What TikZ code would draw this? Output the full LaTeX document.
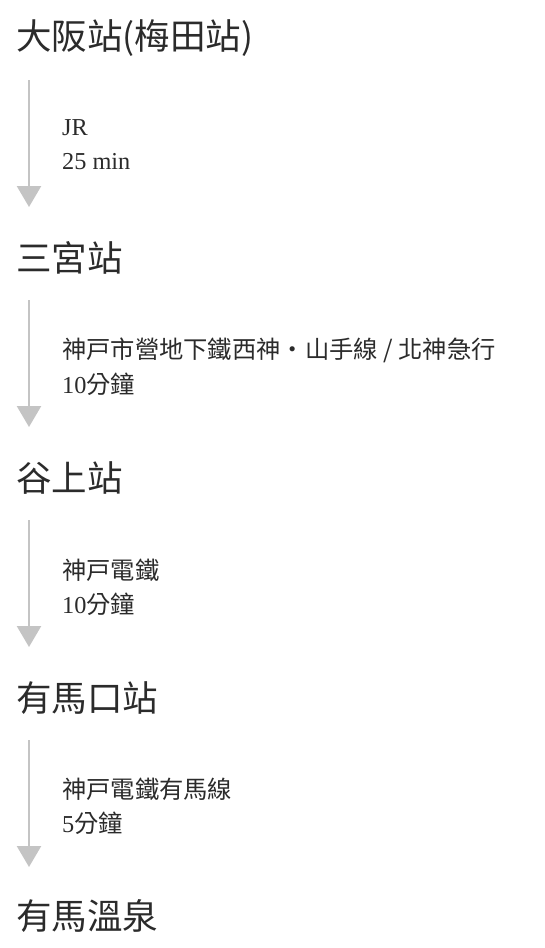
\documentclass[tikz,border=0pt]{standalone}
\usepackage{fontspec}
\setmainfont{Liberation Serif}
\newfontfamily\cjk{Noto Sans CJK TC}
\usetikzlibrary{arrows.meta,positioning}

\definecolor{textgray}{HTML}{2B2B2B}
\definecolor{linegray}{HTML}{C4C4C4}

\newcommand*{\arrx}{29}
\newcommand*{\gap}{220}
\newcommand*{\linegap}{34}

\tikzset{
	station/.style={anchor=west, inner sep=0pt, text=textgray, font=\cjk\fontsize{35.5}{42}\selectfont},
	route/.style={anchor=west, inner sep=0pt, text=textgray, font=\fontsize{24.3}{29}\selectfont},
	flow/.style={draw=linegray, line width=2.5pt, -{Triangle[width=24pt,length=21pt]}}
}

\begin{document}
\begin{tikzpicture}[x=1pt,y=-1pt]

	\useasboundingbox (0,0) rectangle (544,948);

	% stations
	\node[station] (s0) at (16,38) {大阪站(梅田站)};
	\node[station] (s1) at (16,258) {三宮站};
	\node[station] (s2) at (16,478) {谷上站};
	\node[station] (s3) at (16,698) {有馬口站};
	\node[station] (s4) at (16,916) {有馬溫泉};

	% arrows
	\foreach \i in {0,...,3} {
		\coordinate (a\i) at (\arrx,80+\gap*\i);
		\coordinate (b\i) at (\arrx,207+\gap*\i);
		\draw[flow] (a\i) -- (b\i);
	}

	% lines and times
	\node[route] (r0) at (62,128) {JR};
	\node[route] (t0) at ([yshift=-\linegap pt]r0.west) {25 min};

	\node[route] (r1) at (62,350) {\cjk 神戸市營地下鐵西神・山手線 / 北神急行};
	\node[route] (t1) at ([yshift=-\linegap pt]r1.west) {10{\cjk 分鐘}};

	\node[route] (r2) at (62,570) {\cjk 神戸電鐵};
	\node[route] (t2) at ([yshift=-\linegap pt]r2.west) {10{\cjk 分鐘}};

	\node[route] (r3) at (62,789) {\cjk 神戸電鐵有馬線};
	\node[route] (t3) at ([yshift=-\linegap pt]r3.west) {5{\cjk 分鐘}};

\end{tikzpicture}
\end{document}
